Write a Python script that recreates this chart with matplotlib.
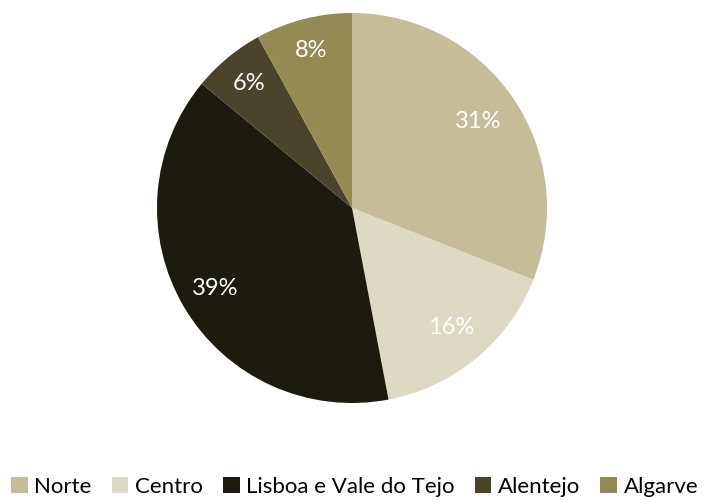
import numpy as np
import matplotlib
matplotlib.use("Agg")
import matplotlib.pyplot as plt
from matplotlib.patches import Patch

regions = ["Norte", "Centro", "Lisboa e Vale do Tejo", "Alentejo", "Algarve"]
shares = [31, 16, 39, 6, 8]
colors = ["#C4BD97", "#DDD9C3", "#1D1B10", "#4A452A", "#948A54"]
# radial position of each percentage label (fraction of radius)
label_r = [0.785, 0.795, 0.815, 0.83, 0.835]

plt.rcParams['font.family'] = ['Lato', 'DejaVu Sans']

fig = plt.figure(figsize=(7.05, 5.01), dpi=100)
ax = fig.add_axes([(352 - 195) / 705, (501 - 403) / 501, 390 / 705, 390 / 501])

wedges, texts = ax.pie(shares, colors=colors, startangle=90, counterclock=False,
                       radius=1, labels=[f"{s}%" for s in shares],
                       textprops=dict(color="white", fontsize=17),
                       wedgeprops=dict(linewidth=0))
for w, t, r in zip(wedges, texts, label_r):
    ang = np.deg2rad((w.theta1 + w.theta2) / 2)
    t.set_position((r * np.cos(ang), r * np.sin(ang)))
    t.set_horizontalalignment("center")
    t.set_verticalalignment("center")
ax.set_xlim(-1, 1)
ax.set_ylim(-1, 1)
ax.set_aspect("equal")

handles = [Patch(facecolor=c, edgecolor="none") for c in colors]
fig.legend(handles, regions, loc="center", bbox_to_anchor=(0.503, 1 - 487 / 501),
           ncol=5, frameon=False, fontsize=16, handlelength=0.75, handleheight=0.75,
           handletextpad=0.3, columnspacing=0.9, borderpad=0)

fig.savefig("out.png", dpi=100)
